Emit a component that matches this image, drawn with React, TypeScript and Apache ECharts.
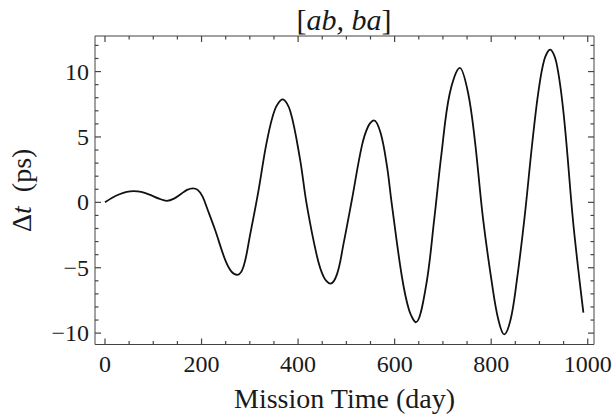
import React, { useEffect, useRef } from "react";
import * as echarts from "echarts";

// Mission time (day) and Δt (ps)
const days = [
  0, 15, 30, 45, 59, 75, 95, 112, 128, 143, 158, 170, 182, 192, 202, 214, 228, 249, 262, 274,
  287, 300, 318, 335, 352, 368, 384, 404, 418, 439, 453, 467, 481, 494, 511, 532, 545, 557,
  571, 584, 594, 615, 630, 644, 665, 682, 697, 714, 735, 752, 766, 783, 802, 815, 827, 840,
  852, 869, 885, 898, 910, 922, 935, 950, 969, 980, 991,
];
const dt = [
  0.0, 0.35, 0.62, 0.8, 0.86, 0.8, 0.55, 0.28, 0.12, 0.28, 0.65, 0.95, 1.07, 0.95, 0.45, -0.7, -2.1, -4.4, -5.3, -5.54,
  -4.9, -2.6, 0.9, 4.6, 7.1, 7.87, 6.95, 3.3, -0.2, -4.1, -5.7, -6.22, -5.45, -3.2, 0.1, 4.3, 5.8, 6.27,
  5.3, 2.8, -0.1, -5.67, -8.25, -9.17, -6.4, -1.3, 3.7, 8.3, 10.28, 8.4, 4.8, -1.2, -6.3, -9.0, -10.1, -9.0,
  -6.3, -1.2, 4.5, 8.5, 10.9, 11.68, 10.7, 6.8, -1.2, -5.0, -8.43,
];

const xMajor = [0, 200, 400, 600, 800, 1000];
const xMinor = [
  0, 50, 100, 150, 200, 250, 300, 350, 400, 450, 500, 550, 600, 650, 700, 750, 800, 850, 900, 950, 1000,
];
const yMajor = [-10, -5, 0, 5, 10];
const yMinor = [-10, -9, -8, -7, -6, -5, -4, -3, -2, -1, 0, 1, 2, 3, 4, 5, 6, 7, 8, 9, 10, 11, 12];

const X_MIN = -20.7;
const X_MAX = 1013;
const Y_MIN = -10.87;
const Y_MAX = 12.72;

const FONT = "'Liberation Serif', 'Times New Roman', serif";
const FRAME = "#444444";
const TEXT = "#1a1a1a";
const MAJOR_LEN = 6;
const MINOR_LEN = 3.5;

const fmt = (v: number) => (v < 0 ? "\u2212" + Math.abs(v) : String(v));

export default function App() {
  const ref = useRef<HTMLDivElement>(null);

  useEffect(() => {
    if (!ref.current) return;
    const chart = echarts.init(ref.current, undefined, { renderer: "svg" });

    const option: any = {
      animation: false,
      backgroundColor: "#ffffff",
      grid: {
        show: true,
        borderColor: FRAME,
        borderWidth: 1,
        backgroundColor: "transparent",
        left: 95,
        top: 36,
        width: 499,
        height: 308.5,
        containLabel: false,
        outerBoundsMode: "none",
      },
      xAxis: {
        type: "value",
        min: X_MIN,
        max: X_MAX,
        splitLine: { show: false },
        axisLine: { show: false, onZero: false },
        axisTick: { show: false },
        axisLabel: {
          show: true,
          customValues: xMajor,
          formatter: fmt,
          margin: 7,
          fontSize: 24,
          fontFamily: FONT,
          color: TEXT,
        },
        name: "Mission Time (day)",
        nameLocation: "middle",
        nameGap: 40,
        nameMoveOverlap: false,
        nameTextStyle: { fontSize: 28, fontFamily: FONT, color: TEXT },
      },
      yAxis: {
        type: "value",
        min: Y_MIN,
        max: Y_MAX,
        splitLine: { show: false },
        axisLine: { show: false, onZero: false },
        axisTick: { show: false },
        axisLabel: {
          show: true,
          customValues: yMajor,
          formatter: fmt,
          margin: 6,
          fontSize: 24,
          fontFamily: FONT,
          color: TEXT,
        },
        name: "{n|\u0394}{i|t}{n|  (ps)}",
        nameLocation: "middle",
        nameGap: 60,
        nameMoveOverlap: false,
        nameTextStyle: {
          fontSize: 28,
          fontFamily: FONT,
          color: TEXT,
          rich: {
            n: { fontSize: 28, fontFamily: FONT, color: TEXT },
            i: { fontSize: 28, fontFamily: FONT, fontStyle: "italic", color: TEXT },
          },
        },
      },
      series: [
        {
          type: "line",
          data: days.map((d, i) => [d, dt[i]]),
          showSymbol: false,
          smooth: 0.35,
          lineStyle: { color: "#111111", width: 1.8 },
          clip: true,
          z: 4,
        },
      ],
    };

    chart.setOption(option);

    // Frame ticks on all four sides, positioned through the chart's own axis scales
    const toPx = (v: [number, number]) => chart.convertToPixel({ gridIndex: 0 }, v) as number[];
    const tickFill = { fill: FRAME };
    const ticks: any[] = [];
    xMinor.forEach((v) => {
      const len = xMajor.includes(v) ? MAJOR_LEN : MINOR_LEN;
      const b = toPx([v, Y_MIN]);
      const t = toPx([v, Y_MAX]);
      ticks.push({ type: "rect", z: 10, shape: { x: b[0] - 0.6, y: b[1] - len, width: 1.2, height: len }, style: tickFill });
      ticks.push({ type: "rect", z: 10, shape: { x: t[0] - 0.6, y: t[1], width: 1.2, height: len }, style: tickFill });
    });
    yMinor.forEach((v) => {
      const len = yMajor.includes(v) ? MAJOR_LEN : MINOR_LEN;
      const l = toPx([X_MIN, v]);
      const r = toPx([X_MAX, v]);
      ticks.push({ type: "rect", z: 10, shape: { x: l[0], y: l[1] - 0.6, width: len, height: 1.2 }, style: tickFill });
      ticks.push({ type: "rect", z: 10, shape: { x: r[0] - len, y: r[1] - 0.6, width: len, height: 1.2 }, style: tickFill });
    });

    chart.setOption({
      graphic: [
        ...ticks,
        {
          type: "text",
          x: 344,
          y: 19,
          z: 10,
          style: {
            text: "{n|[}{i|ab, ba}{n|]}",
            align: "center",
            verticalAlign: "middle",
            fontSize: 30,
            fontFamily: FONT,
            fill: TEXT,
            rich: {
              n: { fontSize: 30, fontFamily: FONT, fill: TEXT, color: TEXT },
              i: { fontSize: 30, fontFamily: FONT, fontStyle: "italic", fill: TEXT, color: TEXT },
            },
          },
        },
      ],
    });

    return () => chart.dispose();
  }, []);

  return (
    <div
      ref={ref}
      style={{ position: "fixed", left: 0, top: 0, width: 616, height: 418, background: "#fff" }}
    />
  );
}
